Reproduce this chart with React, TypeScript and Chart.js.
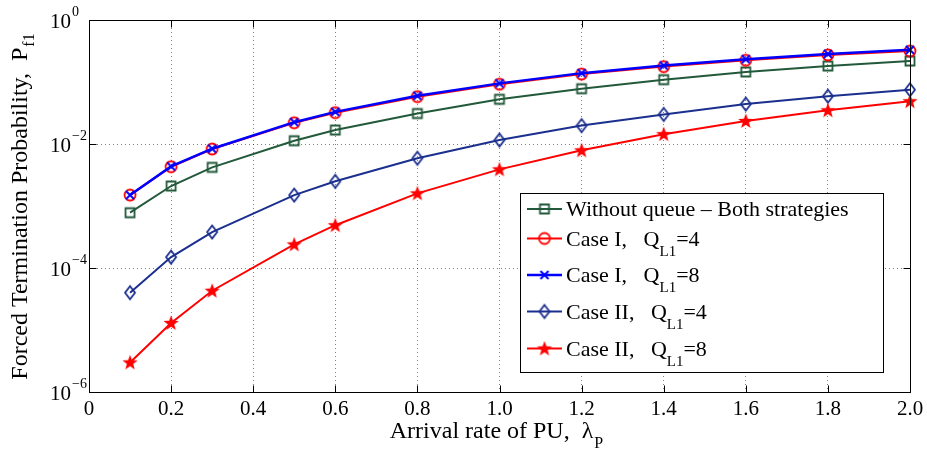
import React, { useEffect, useRef } from 'react';
import { Chart, registerables } from 'chart.js';

Chart.register(...registerables);

// ---------- data ----------
const xValues = [0.1, 0.2, 0.3, 0.5, 0.6, 0.8, 1.0, 1.2, 1.4, 1.6, 1.8, 2.0];
const withoutQueue = [7.8e-4, 2.1e-3, 4.2e-3, 0.0113, 0.0168, 0.031, 0.0526, 0.078, 0.109, 0.145, 0.181, 0.218];
const caseIQ4 = [1.5e-3, 4.3e-3, 8.3e-3, 0.022, 0.032, 0.058, 0.092, 0.134, 0.177, 0.224, 0.273, 0.315];
const caseIQ8 = [1.5e-3, 4.35e-3, 8.4e-3, 0.0225, 0.033, 0.06, 0.095, 0.139, 0.184, 0.233, 0.284, 0.33];
const caseIIQ4 = [4.0e-5, 1.5e-4, 3.8e-4, 1.5e-3, 2.5e-3, 5.9e-3, 0.0116, 0.0198, 0.030, 0.044, 0.059, 0.075];
const caseIIQ8 = [3.0e-6, 1.3e-5, 4.3e-5, 2.4e-4, 4.9e-4, 1.6e-3, 3.9e-3, 7.9e-3, 0.0144, 0.0235, 0.035, 0.049];

const xTicks = [0, 0.2, 0.4, 0.6, 0.8, 1.0, 1.2, 1.4, 1.6, 1.8, 2.0];
const xTickLabels = ['0', '0.2', '0.4', '0.6', '0.8', '1.0', '1.2', '1.4', '1.6', '1.8', '2.0'];
const yTicks = [1, 1e-2, 1e-4, 1e-6];
const yTickExponents = ['0', '\u22122', '\u22124', '\u22126'];

const legendMain = ['Without queue \u2013 Both strategies', 'Case I,   Q', 'Case I,   Q', 'Case II,   Q', 'Case II,   Q'];
const legendSub = ['', 'L1', 'L1', 'L1', 'L1'];
const legendSuffix = ['', '=4', '=8', '=4', '=8'];

const xTitleMain = 'Arrival rate of PU,  \u03bb';
const xTitleSub = 'P';
const yTitleMain = 'Forced Termination Probability,  P';
const yTitleSub = 'f1';

// ---------- styles ----------
const seriesColors = ['#22593a', '#ff0000', '#0000ff', '#1b2f8e', '#ff0000'];
const seriesMarkers = ['square', 'circle', 'x', 'diamond', 'star'];
const seriesWidths = [2, 2, 2.5, 2, 2];
const FONT = '"Liberation Serif", "Times New Roman", serif';

function makeMarker(kind: string, color: string): HTMLCanvasElement {
  const s = 22;
  const c = document.createElement('canvas');
  c.width = s;
  c.height = s;
  const g = c.getContext('2d') as CanvasRenderingContext2D;
  const m = s / 2;
  g.strokeStyle = color;
  g.fillStyle = color;
  g.lineWidth = 1.8;
  g.beginPath();
  if (kind === 'square') {
    g.rect(m - 4.5, m - 4.5, 9, 9);
    g.stroke();
  } else if (kind === 'circle') {
    g.arc(m, m, 5.5, 0, Math.PI * 2);
    g.stroke();
  } else if (kind === 'x') {
    g.lineWidth = 2;
    g.moveTo(m - 4, m - 4);
    g.lineTo(m + 4, m + 4);
    g.moveTo(m + 4, m - 4);
    g.lineTo(m - 4, m + 4);
    g.stroke();
  } else if (kind === 'diamond') {
    g.moveTo(m, m - 6.5);
    g.lineTo(m + 5, m);
    g.lineTo(m, m + 6.5);
    g.lineTo(m - 5, m);
    g.closePath();
    g.stroke();
  } else if (kind === 'star') {
    for (let i = 0; i < 10; i++) {
      const r = i % 2 === 0 ? 8 : 3.3;
      const a = -Math.PI / 2 + (i * Math.PI) / 5;
      const px = m + r * Math.cos(a);
      const py = m + 0.5 + r * Math.sin(a);
      if (i === 0) g.moveTo(px, py);
      else g.lineTo(px, py);
    }
    g.closePath();
    g.fill();
  }
  return c;
}

export default function App() {
  const ref = useRef<HTMLCanvasElement | null>(null);

  useEffect(() => {
    document.body.style.margin = '0';
    const canvas = ref.current;
    if (!canvas) return;

    const seriesValues = [withoutQueue, caseIQ4, caseIQ8, caseIIQ4, caseIIQ8];
    const markers = seriesMarkers.map((k, i) => makeMarker(k, seriesColors[i]));

    const datasets = seriesValues.map((vals, i) => ({
      label: legendMain[i] + legendSub[i] + legendSuffix[i],
      data: xValues.map((x, j) => ({ x, y: vals[j] })),
      borderColor: seriesColors[i],
      backgroundColor: seriesColors[i],
      borderWidth: seriesWidths[i],
      pointStyle: markers[i],
      pointRadius: 5,
      pointHoverRadius: 5,
      tension: 0,
      clip: false as any,
      order: 5 - i,
    }));

    const decor = {
      id: 'decor',
      afterDraw(chart: any) {
        const ctx: CanvasRenderingContext2D = chart.ctx;
        const { left, right, top, bottom } = chart.chartArea;
        const xs = chart.scales.x;
        const ys = chart.scales.y;
        ctx.save();
        // frame
        ctx.strokeStyle = '#000';
        ctx.lineWidth = 1;
        const L = Math.round(left) + 0.5;
        const R = Math.round(right) + 0.5;
        const T = Math.round(top) + 0.5;
        const B = Math.round(bottom) + 0.5;
        ctx.beginPath();
        ctx.rect(L, T, R - L, B - T);
        ctx.stroke();
        // inward ticks
        const tl = 7;
        ctx.beginPath();
        xTicks.forEach((v) => {
          const px = Math.round(xs.getPixelForValue(v)) + 0.5;
          ctx.moveTo(px, B);
          ctx.lineTo(px, B - tl);
          ctx.moveTo(px, T);
          ctx.lineTo(px, T + tl);
        });
        yTicks.forEach((v) => {
          const py = Math.round(ys.getPixelForValue(v)) + 0.5;
          ctx.moveTo(L, py);
          ctx.lineTo(L + tl, py);
          ctx.moveTo(R, py);
          ctx.lineTo(R - tl, py);
        });
        ctx.stroke();

        ctx.fillStyle = '#000';
        // x tick labels
        ctx.font = `21px ${FONT}`;
        ctx.textAlign = 'center';
        ctx.textBaseline = 'alphabetic';
        xTicks.forEach((v, i) => {
          ctx.fillText(xTickLabels[i], xs.getPixelForValue(v), 415);
        });
        // y tick labels 10^n
        yTicks.forEach((v, i) => {
          const py = ys.getPixelForValue(v);
          ctx.font = `21px ${FONT}`;
          ctx.textAlign = 'right';
          ctx.fillText('10', 71, py + 7.5);
          ctx.font = `14px ${FONT}`;
          ctx.textAlign = 'left';
          ctx.fillText(yTickExponents[i], 72, py - 4.5);
        });

        // x title
        ctx.font = `24px ${FONT}`;
        const wMain = ctx.measureText(xTitleMain).width;
        ctx.font = `16px ${FONT}`;
        const wSub = ctx.measureText(xTitleSub).width;
        const sx = 496 - (wMain + wSub) / 2;
        ctx.textAlign = 'left';
        ctx.font = `24px ${FONT}`;
        ctx.fillText(xTitleMain, sx, 438);
        ctx.font = `16px ${FONT}`;
        ctx.fillText(xTitleSub, sx + wMain + 1, 448);

        // y title
        ctx.save();
        ctx.translate(27, 207);
        ctx.rotate(-Math.PI / 2);
        ctx.font = `24px ${FONT}`;
        const yMainW = ctx.measureText(yTitleMain).width;
        ctx.font = `16px ${FONT}`;
        const ySubW = ctx.measureText(yTitleSub).width;
        const ys0 = -(yMainW + ySubW) / 2;
        ctx.font = `24px ${FONT}`;
        ctx.fillText(yTitleMain, ys0, 0);
        ctx.font = `16px ${FONT}`;
        ctx.fillText(yTitleSub, ys0 + yMainW + 1, 7);
        ctx.restore();

        // legend
        const lx = 520.5, ly = 193.5, lw = 363, lh = 179;
        ctx.fillStyle = '#fff';
        ctx.fillRect(lx, ly, lw, lh);
        ctx.strokeStyle = '#000';
        ctx.lineWidth = 1;
        ctx.strokeRect(lx, ly, lw, lh);
        const rowY = [209, 238.5, 275, 311.5, 348.5];
        rowY.forEach((ry, i) => {
          ctx.strokeStyle = seriesColors[i];
          ctx.lineWidth = seriesWidths[i];
          ctx.beginPath();
          ctx.moveTo(527, ry);
          ctx.lineTo(562, ry);
          ctx.stroke();
          const mk = markers[i];
          ctx.drawImage(mk, 544.5 - mk.width / 2, ry - mk.height / 2);
          ctx.fillStyle = '#000';
          ctx.textAlign = 'left';
          ctx.font = `22px ${FONT}`;
          let tx = 566;
          ctx.fillText(legendMain[i], tx, ry + 7);
          tx += ctx.measureText(legendMain[i]).width;
          if (legendSub[i]) {
            ctx.font = `15px ${FONT}`;
            ctx.fillText(legendSub[i], tx, ry + 17);
            tx += ctx.measureText(legendSub[i]).width;
          }
          if (legendSuffix[i]) {
            ctx.font = `22px ${FONT}`;
            ctx.fillText(legendSuffix[i], tx, ry + 7);
          }
        });
        ctx.restore();
      },
    };

    const chart = new Chart(canvas, {
      type: 'line',
      data: { datasets: datasets as any },
      options: {
        responsive: false,
        animation: false,
        events: [],
        layout: { padding: { left: 89, right: 17, top: 20, bottom: 59 } },
        plugins: { legend: { display: false }, tooltip: { enabled: false }, title: { display: false } },
        scales: {
          x: {
            type: 'linear',
            min: 0,
            max: 2,
            afterBuildTicks: (s: any) => {
              s.ticks = xTicks.map((v) => ({ value: v }));
            },
            ticks: { display: false },
            grid: { color: 'rgba(0,0,0,0.5)', lineWidth: 1, drawTicks: false },
            border: { display: false, dash: [1, 3] },
          },
          y: {
            type: 'logarithmic',
            min: 1e-6,
            max: 1,
            afterBuildTicks: (s: any) => {
              s.ticks = yTicks.map((v) => ({ value: v }));
            },
            ticks: { display: false },
            grid: { color: 'rgba(0,0,0,0.5)', lineWidth: 1, drawTicks: false },
            border: { display: false, dash: [1, 3] },
          },
        },
      },
      plugins: [decor],
    });

    return () => chart.destroy();
  }, []);

  return (
    <div style={{ width: 927, height: 451 }}>
      <canvas ref={ref} width={927} height={451} style={{ display: 'block', width: 927, height: 451 }} />
    </div>
  );
}
